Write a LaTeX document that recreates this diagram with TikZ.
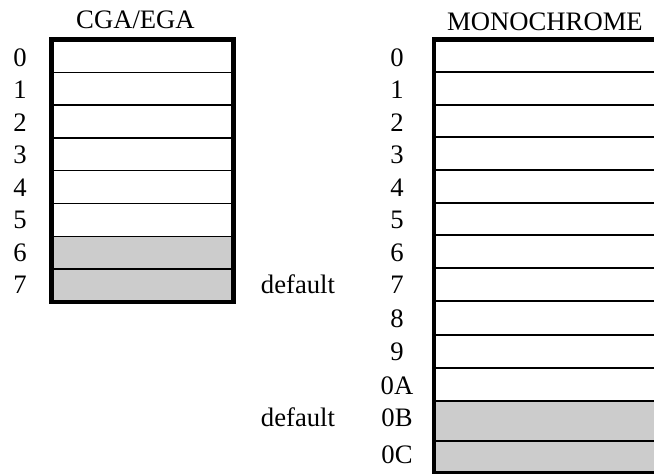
\documentclass[tikz,border=0pt]{standalone}
\usepackage{fontspec}
\setmainfont{Liberation Serif}
\definecolor{cellgray}{HTML}{CCCCCC}
\begin{document}
\begin{tikzpicture}[x=0.75pt,y=0.75pt,yscale=-1,xscale=1,
    frame/.style={line width=3.4pt},
    thinrow/.style={line width=1pt},
    thickrow/.style={line width=1.5pt},
    lbl/.style={anchor=base,inner sep=0pt,font=\fontsize{20}{24}\selectfont}]
    \useasboundingbox (0,0) rectangle (654,474);
    \clip (0,0) rectangle (654,474);

    % CGA/EGA table
    \fill[cellgray] (51.7,236.3) rectangle (233.3,301.9);
    \foreach \i in {1,...,7}
        \draw[thinrow] (51.7,{39.5+32.8*\i}) -- (233.3,{39.5+32.8*\i});
    \draw[frame] (51.7,39.5) rectangle (233.3,301.9);

    % MONOCHROME table (runs off the right edge)
    \fill[cellgray] (434,400.5) rectangle (670,473);
    \foreach \y in {72,105,137.5,170.5,203,235.5,268.5,301.5,335,368,400.5,441}
        \draw[thickrow] (434,\y) -- (670,\y);
    \draw[frame] (670,39.5) -- (434,39.5) -- (434,473) -- (670,473);

    % Text Nodes
    \node[lbl] (cgaTitle) at (135.5,28.5) {CGA/EGA};
    \node[lbl] (monoTitle) at (545,30.5) {MONOCHROME};
    \foreach \i in {0,...,7}
        \node[lbl] (cga\i) at (20,{66.5+32.5*\i}) {\i};
    \foreach \lab/\y in {0/66.5,1/99,2/131.5,3/164,4/196.5,5/229,6/261.5,7/294,8/328,9/360.5,0A/394,0B/426.5,0C/463}
        \node[lbl] (mono\lab) at (397,\y) {\lab};
    \node[lbl] (defCga) at (298,294) {default};
    \node[lbl] (defMono) at (298,426.5) {default};
\end{tikzpicture}
\end{document}
